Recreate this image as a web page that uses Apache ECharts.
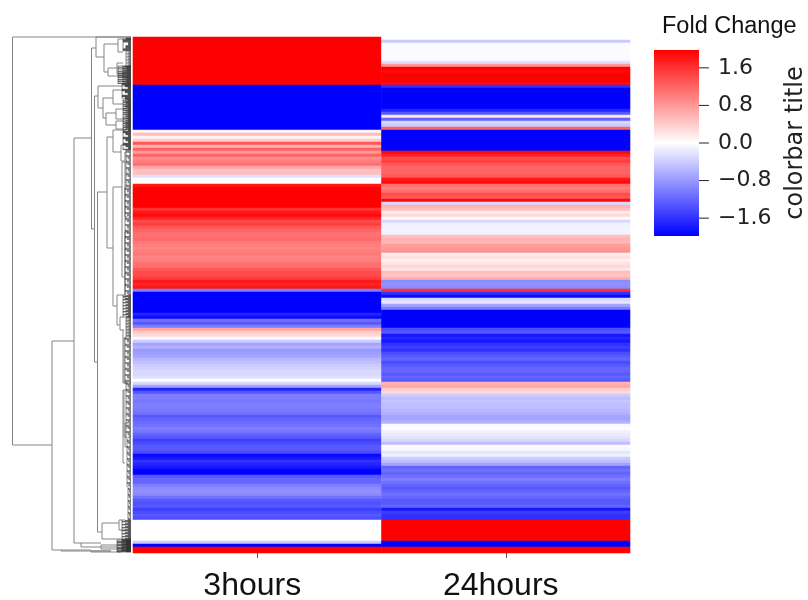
<!DOCTYPE html>
<html><head><meta charset="utf-8">
<style>html,body{margin:0;padding:0;background:#fff}#c{width:808px;height:600px}</style>
<script src="https://cdn.jsdelivr.net/npm/echarts@6/dist/echarts.min.js"></script>
</head><body><div id="c"></div>
<script>
const conditions = ['3hours','24hours'];
const colorTicks = [-1.6,-0.8,0,0.8,1.6];
const hours3 = [
 2,2,2,2,2,2,2,2,2,2,2,2,2,2,2,2,
 -2,-2,-2,-2,-2,-2,-2,-2,-2,-2,-2,-2,-2,-2,-2,
 0.1,0.5,0.1,0.4,1.3,0.6,1.2,0.8,1.2,0.9,1.0,1.1,0.7,0.5,0.5,-0.25,0,0.02,1.8,
 2,2,2,2,2,2,2,
 1.6,1.8,1.9,1.7,1.4,1.5,1.3,
 1.2,1.1,1.1,1.15,1.05,
 1.0,0.95,1.0,1.05,0.95,1.0,
 1.1,1.1,1.3,1.4,1.4,1.5,
 1.8,1.7,1.8,-1.0,
 -2,-2,-2,-2,-2,-2,-2,
 -1.7,-1.9,-1.1,-1.3,-1.0,0.7,0.4,0.3,-0.05,-0.4,-0.7,-0.6,
 -0.8,-0.75,-0.7,-0.55,-0.5,
 -0.4,-0.35,-0.3,-0.3,-0.25,0,-0.3,-0.7,-1.7,-1.3,
 -1.0,-1.0,-1.05,-1.0,-1.0,-1.05,-1.1,
 -1.3,-1.2,-1.15,-1.1,-1.0,-1.05,-1.2,-1.3,
 -1.5,-1.4,-1.3,-1.3,-1.4,-1.9,-1.8,-1.6,-1.7,-1.8,-2,-2,
 -1.3,-1.2,-1.2,-1.0,-0.9,-0.85,-0.9,-1.1,-1.3,-1.35,-1.3,
 -1.5,-1.4,-1.3,-1.4,
 0,0,0,0,0,0,0,-0.4,-2,2,2
];
const hours24 = [
 0,-0.4,-0.03,-0.03,-0.03,-0.03,-0.03,-0.03,-0.25,0.8,
 2,1.9,2,2,2,1.9,
 -1.6,-2,-2,-2,-2,-2,-2,-2,-1.7,-1.3,0.2,-1.2,-0.3,-0.4,1.2,
 -2,-2,-2,-2,-2,-2,-2,1.9,1.7,1.4,
 1.5,1.3,1.2,1.2,1.2,1.3,1.8,1.9,1.1,1.0,1.1,1.4,1.3,1.9,
 -0.3,0.6,0.5,0.15,0.3,0.05,-0.3,-0.1,-0.1,-0.08,-0.1,
 0.5,0.6,0.55,0.75,0.8,0.85,0.15,0.25,0.1,0.2,0.3,0.2,0.5,0.45,0.6,
 -0.9,-0.85,-0.9,1.6,-1.6,-1.9,-0.3,-0.2,-0.7,-1.0,
 -2,-2,-2,-2,-2,-2,-1.4,-1.3,
 -1.8,-1.7,-1.8,-1.6,-1.5,-1.6,
 -1.4,-1.3,-1.2,-1.4,-1.3,-1.2,-1.2,-1.3,-1.2,-1.3,
 0.6,0.7,0.4,0.3,
 -0.4,-0.5,-0.45,-0.5,-0.5,-0.55,-0.6,-0.7,-0.7,-0.6,
 -0.05,-0.02,-0.1,-0.15,-0.2,-0.3,-0.5,0.05,-0.05,-0.2,-0.1,-0.4,-0.5,-0.7,
 -1.2,-1.1,-1.2,
 -1.1,-1,-1.1,-1.2,-1.3,-1.2,-1.1,-1.2,-1.3,-1.3,-1.2,
 -1.8,-1.5,-1.6,-1.6,
 2,2,2,2,2,2,2,-2,-2,2,2
];
// dendrogram links: [mergeDistance, leafPosA, distanceA, leafPosB, distanceB]
const dendroLinks = [
 [118.5,0,0,408,79],[79,304,57,513,70],[57,101,39.5,506,50],[39.5,11,35,192,36.5],
 [35,0,0,20,27],[27,7,13,35,23],[23,31,14,39,7],[13,2,0,15,8],[14,26,8,37,6],
 [36.5,59,33,325,33.5],[33,49,0,71,28],[28,61,18,81,25],[18,53,8,67,8],[25,76,15,88,15],
 [15,72,6,82,6],[15,84,7,92,7],
 [33.5,155,24,495,29],[29,486,12,502,0],[12,483,6,493,6],
 [24,100,18,211,18],[18,93,5,115,10],[10,108,5,124,6],
 [18,150,9,269,14],[9,125,6,240,6],[6,115,3,180,4],[6,195,3,262,3],
 [14,258,6,288,11],[11,280,6,293,8],[8,293,7,346,5],[7,301,4,346,3],[8,353,7,426,6],[7,353,4,400,4],[6,386,3,410,3],
 [50,506,30,510,14],[30,508,14,512,7],[70,513,40,514,20],[40,514,20,515,10]
];
// fine clusters near the leaves: [fromLeafPos, toLeafPos, mergeDistance, leafStep]
const dendroCombs = [
 [1,14,8,0.45],[14,30,5,0.6],[29,47,13,0.35],[47,62,9,0.4],[62,93,8,0.35],[93,113,8,0.4],
 [113,150,5,0.8],[150,200,6,0.8],[200,258,6,0.8],[258,280,8,0.5],[280,300,5,0.6],
 [300,345,6,0.8],[345,400,5,0.8],[400,450,4,0.8],[450,483,3,0.8],[483,503,9,0.5],
 [503,515,14,0.25]
];

const cells = [];
conditions.forEach((c,i)=>{ (i===0?hours3:hours24).forEach((v,r)=>cells.push([i,r,v])); });
const rowNames = hours3.map((_,i)=>String(i));
const segments = [];
dendroLinks.forEach(l=>{
  segments.push([l[2],l[1],l[0],l[1]]);
  segments.push([l[0],l[1],l[0],l[3]]);
  segments.push([l[0],l[3],l[4],l[3]]);
});
const combSegs = [];
dendroCombs.forEach(c=>{
  combSegs.push([c[2],c[0],c[2],c[1]]);
  for(let y=c[0];y<=c[1];y+=c[3]) combSegs.push([c[2]*(0.35+0.65*(Math.round(y*7)%3)/2),y,0,y]);
});
const seg = color => (params,api)=>{
  const a=api.coord([api.value(0),api.value(1)]), b=api.coord([api.value(2),api.value(3)]);
  return {type:'line',shape:{x1:a[0],y1:a[1],x2:b[0],y2:b[1]},style:{stroke:color,lineWidth:1},silent:true};
};
const font='"Liberation Sans",Arial,sans-serif', dj='"DejaVu Sans",sans-serif';
const chart = echarts.init(document.getElementById('c'),null,{renderer:'canvas'});
chart.setOption({
  animation:false, backgroundColor:'#fff',
  title:{text:'Fold Change',left:657,top:10,textStyle:{fontFamily:font,fontSize:23.5,fontWeight:'normal',color:'#111'}},
  grid:[
    {left:133,top:37,width:497,height:516,outerBoundsMode:'none'},
    {left:11,top:37,width:120,height:515,outerBoundsMode:'none'},
    {left:654,top:50,width:45,height:186,outerBoundsMode:'none'}
  ],
  xAxis:[
    {type:'category',gridIndex:0,data:conditions,axisLine:{show:false},
     axisTick:{show:true,length:5,alignWithLabel:true,lineStyle:{color:'#555'},customValues:[0,1]},
     axisLabel:{interval:0,fontFamily:font,fontSize:32,color:'#111',margin:17,padding:[0,10,0,0]},splitLine:{show:false}},
    {type:'value',gridIndex:1,min:0,max:120,inverse:true,show:false},
    {type:'value',gridIndex:2,min:0,max:1,show:false}
  ],
  yAxis:[
    {type:'category',gridIndex:0,data:rowNames,inverse:true,show:false},
    {type:'value',gridIndex:1,min:0,max:515,inverse:true,show:false},
    {type:'value',gridIndex:2,min:-1.98,max:1.98,position:'right',
     name:'colorbar title',nameLocation:'middle',nameRotate:90,nameGap:85,
     nameTextStyle:{fontFamily:dj,fontSize:24,color:'#222'},
     axisLine:{show:false},splitLine:{show:false},axisTick:{show:false},
     axisLabel:{customValues:colorTicks,margin:19,fontFamily:dj,fontSize:22,color:'#222',padding:[11,0,0,0],
       formatter:v=>(v<0?'\u2212':'')+Math.abs(v).toFixed(1)}}
  ],
  visualMap:{type:'continuous',show:false,seriesIndex:0,min:-1.98,max:1.98,
    inRange:{color:['#0000ff','#ffffff','#ff0000']}},
  series:[
    {type:'heatmap',xAxisIndex:0,yAxisIndex:0,data:cells,itemStyle:{borderWidth:0},emphasis:{disabled:true}},
    {type:'custom',xAxisIndex:1,yAxisIndex:1,data:segments,renderItem:seg('#858585'),silent:true,clip:false},
    {type:'custom',xAxisIndex:1,yAxisIndex:1,data:combSegs,renderItem:seg('rgba(40,40,40,0.55)'),silent:true,clip:false},
    {type:'custom',xAxisIndex:2,yAxisIndex:2,data:[[0,1.98,1,-1.98]],silent:true,clip:false,
     renderItem:(p,api)=>{
       const a=api.coord([api.value(0),api.value(1)]), b=api.coord([api.value(2),api.value(3)]);
       return {type:'rect',shape:{x:a[0],y:a[1],width:b[0]-a[0],height:b[1]-a[1]},silent:true,
         style:{fill:new echarts.graphic.LinearGradient(0,0,0,1,[{offset:0,color:'#ff0000'},{offset:0.5,color:'#ffffff'},{offset:1,color:'#0000ff'}])}};
     }},
    {type:'custom',xAxisIndex:2,yAxisIndex:2,data:colorTicks.map(v=>[1,v,1.22,v]),renderItem:seg('#222222'),silent:true,clip:false}
  ]
});
</script></body></html>
